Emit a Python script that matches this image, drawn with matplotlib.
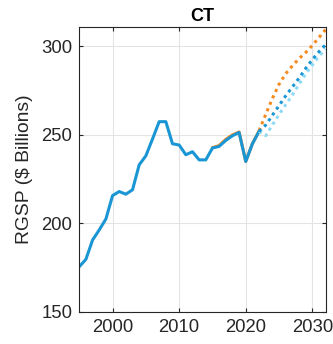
import matplotlib
matplotlib.use("Agg")
import matplotlib.pyplot as plt

plt.rcParams['font.family'] = ['Liberation Sans', 'DejaVu Sans']

hist_years = list(range(1995, 2023))
hist_blue = [175.4, 179.6, 190.5, 196.2, 202.4, 215.6, 217.9, 216.4, 218.9, 233.0,
             238.1, 247.6, 257.4, 257.4, 244.9, 244.2, 238.7, 240.4, 235.8, 235.8,
             242.5, 243.4, 246.8, 249.4, 251.3, 234.9, 244.9, 251.9]
hist_orange_years = list(range(2015, 2023))
hist_orange = [242.7, 243.9, 247.4, 249.9, 251.6, 234.9, 245.0, 252.2]

fc_years = list(range(2022, 2033))
fc_orange = [252.3, 261.5, 270.5, 278.5, 284.5, 289.0, 293.0, 296.5, 300.5, 305.0, 309.5]
fc_blue = [251.9, 255.5, 261.0, 266.5, 272.0, 277.0, 282.0, 287.5, 292.5, 297.0, 301.0]
fc_light = [251.9, 249.5, 255.5, 261.5, 267.0, 272.5, 278.5, 284.5, 289.5, 294.5, 298.5]

blue = '#1a96d4'
orange = '#f58a1f'
light = '#8cd9f5'

fig = plt.figure(figsize=(3.33, 3.44), dpi=100)
ax = fig.add_axes([0.238, 0.094, 0.740, 0.828])

ax.plot(hist_orange_years, hist_orange, color=orange, lw=2.2, solid_capstyle='round')
ax.plot(hist_years, hist_blue, color=blue, lw=2.2)
ax.plot(fc_years, fc_orange, color=orange, lw=2.2, linestyle=(0, (1, 1.3)))
ax.plot(fc_years, fc_light, color=light, lw=2.2, linestyle=(0, (1, 1.3)))
ax.plot(fc_years, fc_blue, color=blue, lw=2.2, linestyle=(0, (1, 1.3)))

ax.set_xlim(1995, 2032)
ax.set_ylim(150, 311)
ax.set_xticks([2000, 2010, 2020, 2030])
ax.set_yticks([150, 200, 250, 300])
ax.grid(True, color='#e3e3e3', lw=0.8)
ax.set_axisbelow(True)
ax.tick_params(direction='in', length=3, labelsize=13.3, colors='#262626',
               top=True, right=True, pad=5)
for s in ax.spines.values():
    s.set_color('#262626')
    s.set_linewidth(0.8)
ax.set_ylabel('RGSP ($ Billions)', fontsize=13.9, color='#262626', labelpad=6)
ax.set_title('CT', fontsize=13, fontweight='bold', pad=4)

fig.savefig('out.png', dpi=100)
